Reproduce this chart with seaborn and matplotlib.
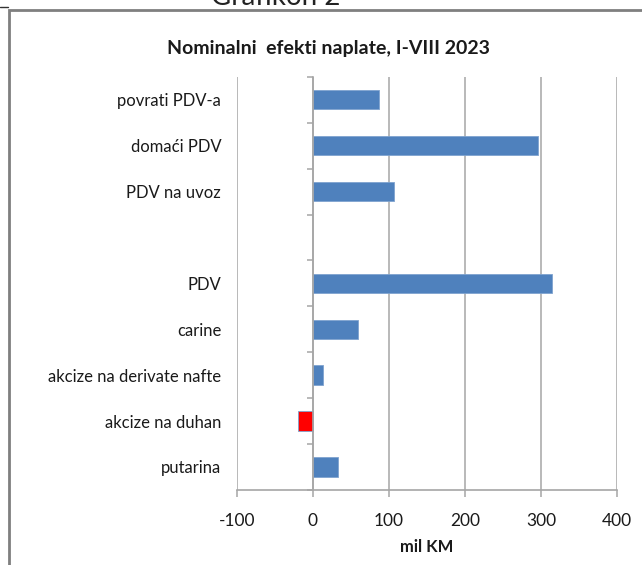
import matplotlib
matplotlib.use("Agg")
import matplotlib.pyplot as plt
from matplotlib.patches import Rectangle
from matplotlib.lines import Line2D
import seaborn as sns
import numpy as np
import pandas as pd

# categories top to bottom; the blank slot separates the two groups
categories = ["povrati PDV-a", "domaći PDV", "PDV na uvoz", " ",
              "PDV", "carine", "akcize na derivate nafte", "akcize na duhan", "putarina"]
values = [87, 296, 107, np.nan, 314, 59, 13, -20, 33]
x_ticks = [-100, 0, 100, 200, 300, 400]

blue = "#4F81BD"
red = "#FF0000"
bar_colors = {c: (red if v < 0 else blue) for c, v in zip(categories, values)}

sns.set_theme(style="white")
plt.rcParams["font.family"] = ["Lato", "DejaVu Sans"]

df = pd.DataFrame({"kategorija": categories, "vrijednost": values})

fig = plt.figure(figsize=(6.42, 5.65), dpi=100)
ax = fig.add_axes([0.369, 0.133, 0.592, 0.731])

sns.barplot(data=df, x="vrijednost", y="kategorija", hue="kategorija",
            palette=bar_colors, order=categories, width=0.42, legend=False,
            saturation=1, edgecolor="#7FA3CF", linewidth=0.6, ax=ax)

ax.set_xlim(-100, 400)
ax.set_ylim(len(categories) - 0.5, -0.5)
ax.set_xticks(x_ticks)
ax.set_xticklabels([str(t) for t in x_ticks])
ax.set_ylabel("")
ax.set_xlabel("mil KM", fontsize=12, fontweight="bold", color="#1a1a1a", labelpad=7)

grid_col = "#A6A6A6"
ax.xaxis.grid(True, color=grid_col, linewidth=1.1)
ax.set_axisbelow(True)
for s in ["top", "right"]:
    ax.spines[s].set_visible(False)
ax.spines["bottom"].set_color(grid_col)
ax.spines["bottom"].set_linewidth(1.2)
ax.spines["left"].set_position(("data", 0))
ax.spines["left"].set_color(grid_col)
ax.spines["left"].set_linewidth(1.2)

ax.tick_params(axis="x", which="major", length=5, width=1.1, color=grid_col,
               labelsize=12.5, labelcolor="#1a1a1a", pad=12, direction="out", bottom=True)
ax.tick_params(axis="y", which="major", length=0, pad=66, labelsize=12, labelcolor="#1a1a1a")
ax.set_yticks(np.arange(-0.5, len(categories), 1.0), minor=True)
ax.tick_params(axis="y", which="minor", length=4.5, width=1.1, color=grid_col, direction="out", left=True)

fig.suptitle("Nominalni  efekti naplate, I-VIII 2023", x=0.512, y=0.93,
             fontsize=14, fontweight="bold", color="#1a1a1a")

# outer frame and the caption above it, clipped by the page edge as in the source
fig.patches.append(Rectangle((0.014, -0.05), 1.1, 1.033, transform=fig.transFigure,
                             fill=False, edgecolor="#7F7F7F", linewidth=2))
fig.lines.append(Line2D([0, 0.013], [0.987, 0.987], transform=fig.transFigure,
                        color="#333333", linewidth=1))
fig.text(0.43, 0.992, "Grafikon 2", fontsize=20, color="#222222", ha="center", va="baseline")

fig.savefig("out.png", dpi=100)
